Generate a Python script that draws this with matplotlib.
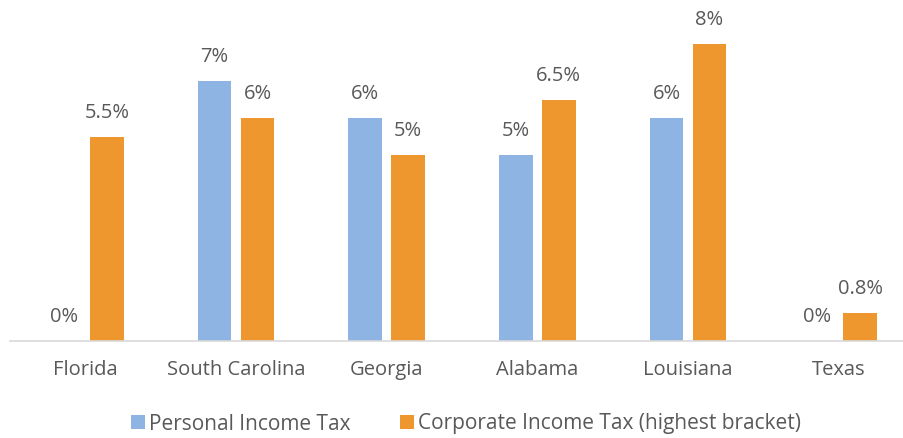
import matplotlib.pyplot as plt
import numpy as np

# Chart data
states = ['Florida', 'South Carolina', 'Georgia', 'Alabama', 'Louisiana', 'Texas']
personal_tax = [0, 7, 6, 5, 6, 0]
corporate_tax = [5.5, 6, 5, 6.5, 8, 0.75]
personal_labels = ['0%', '7%', '6%', '5%', '6%', '0%']
corporate_labels = ['5.5%', '6%', '5%', '6.5%', '8%', '0.8%']

plt.rcParams['font.family'] = ['Open Sans', 'DejaVu Sans']

blue = '#8EB4E3'
orange = '#ED972E'
text_gray = '#595959'
fs = 14.5

fig = plt.figure(figsize=(9.04, 4.38), dpi=100)
ax = fig.add_axes([10 / 904, (438 - 340.5) / 438, 904 / 904, 333.5 / 438])

x = np.arange(len(states))
width = 0.225
gap = 0.06
offset = (width + gap) / 2

b1 = ax.bar(x - offset, personal_tax, width, color=blue, label='Personal Income Tax')
b2 = ax.bar(x + offset, corporate_tax, width, color=orange, label='Corporate Income Tax (highest bracket)')

# Value labels above bars
for bars, labels in [(b1, personal_labels), (b2, corporate_labels)]:
    for rect, lab in zip(bars, labels):
        ax.annotate(lab, (rect.get_x() + rect.get_width() / 2, rect.get_height()),
                    xytext=(0, 10), textcoords='offset points',
                    ha='center', va='bottom', fontsize=fs, color=text_gray)

ax.set_xlim(-0.5, len(states) - 0.5)
ax.set_ylim(0, 9)
ax.set_yticks([])
ax.set_xticks(x)
ax.set_xticklabels(states, fontsize=fs, color=text_gray)
ax.tick_params(axis='x', length=0, pad=14)

for side in ['top', 'right', 'left']:
    ax.spines[side].set_visible(False)
ax.spines['bottom'].set_color('#D9D9D9')
ax.spines['bottom'].set_linewidth(1.2)

fig.legend(handles=[b1, b2], loc='center', bbox_to_anchor=(466 / 904, 1 - 424 / 438),
           ncol=2, frameon=False, fontsize=15, handlelength=0.67, handleheight=0.67,
           handletextpad=0.2, columnspacing=2.4, labelcolor=text_gray)

plt.savefig('out.png', dpi=100)
plt.close()
